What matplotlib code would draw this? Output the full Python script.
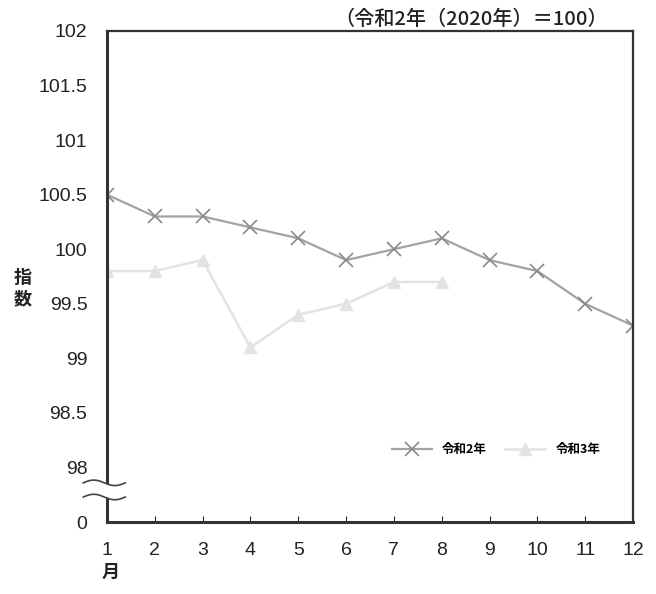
import numpy as np
import matplotlib.pyplot as plt

plt.rcParams['font.family'] = ['Liberation Sans', 'Noto Sans CJK JP', 'DejaVu Sans']

months = list(range(1, 13))
r2_values = [100.5, 100.3, 100.3, 100.2, 100.1, 99.9, 100.0, 100.1, 99.9, 99.8, 99.5, 99.3]
r3_months = list(range(1, 9))
r3_values = [99.8, 99.8, 99.9, 99.1, 99.4, 99.5, 99.7, 99.7]
y_ticks = [97.5, 98, 98.5, 99, 99.5, 100, 100.5, 101, 101.5, 102]
y_tick_labels = ['0', '98', '98.5', '99', '99.5', '100', '100.5', '101', '101.5', '102']

fig = plt.figure(figsize=(6.56, 5.94), dpi=100)
ax = fig.add_axes([0.163, 0.121, 0.802, 0.827])

ax.plot(months, r2_values, color='#a3a3a3', linewidth=1.6, marker='x',
        markersize=10, markeredgewidth=1.2, markeredgecolor='#8a8a8a', label='令和2年')
ax.plot(r3_months, r3_values, color='#e3e3e3', linewidth=1.8, marker='^',
        markersize=8, markeredgecolor='#e3e3e3', label='令和3年')

ax.set_xlim(1, 12)
ax.set_ylim(97.5, 102)
ax.set_xticks(months)
ax.set_yticks(y_ticks)
ax.set_yticklabels(y_tick_labels)
ax.tick_params(axis='both', direction='in', length=4, labelsize=14, colors='#222')
ax.tick_params(axis='y', length=0, pad=14)
ax.tick_params(axis='x', pad=14)

for side in ['left', 'bottom']:
    ax.spines[side].set_linewidth(2.2)
    ax.spines[side].set_color('#333')
for side in ['top', 'right']:
    ax.spines[side].set_linewidth(1.6)
    ax.spines[side].set_color('#333')

# axis break marks between 0 and 98
trans = ax.get_yaxis_transform()
xs = np.linspace(-0.045, 0.035, 50)
for yc in (97.86, 97.73):
    ys = yc + 0.025 * np.sin((xs + 0.045) / 0.08 * 2 * np.pi)
    ax.fill_between(xs, ys, ys - 0.12 if yc > 97.8 else ys, transform=trans,
                    color='white', clip_on=False, zorder=5, linewidth=0)
for yc in (97.86, 97.73):
    ys = yc + 0.025 * np.sin((xs + 0.045) / 0.08 * 2 * np.pi)
    ax.plot(xs, ys, transform=trans, color='#444', linewidth=1.2,
            clip_on=False, zorder=6)

ax.legend(loc='center left', bbox_to_anchor=(0.52, 0.147), ncol=2, frameon=False,
          handlelength=3.2, prop={'family': ['Noto Sans CJK JP'], 'size': 9, 'weight': 'bold'},
          columnspacing=1.5)

cjk = ['Noto Sans CJK JP', 'DejaVu Sans']
fig.text(0.035, 0.515, '指\n数', fontsize=13, fontweight='bold', ha='center',
         va='center', linespacing=1.1, color='#222', family=cjk)
fig.text(0.168, 0.02, '月', fontsize=13, fontweight='bold', ha='center',
         va='bottom', color='#222', family=cjk)
fig.text(0.926, 0.968, '（令和2年（2020年）＝100）', fontsize=14.5, ha='right',
         va='center', color='#222', family=cjk, fontweight='medium')

fig.savefig('out.png', dpi=100)
